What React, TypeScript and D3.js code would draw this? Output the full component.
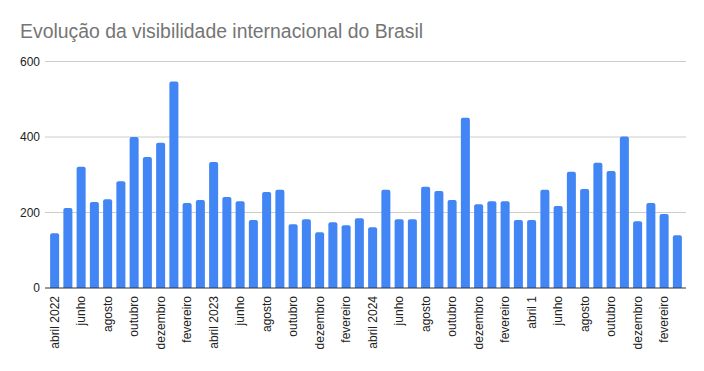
import React from "react";
import * as d3 from "d3";

const title = "Evolução da visibilidade internacional do Brasil";

const categories = [
  "abril 2022", "maio", "junho", "julho", "agosto", "setembro", "outubro", "novembro", "dezembro", "janeiro", "fevereiro", "março",
  "abril 2023", "maio", "junho", "julho", "agosto", "setembro", "outubro", "novembro", "dezembro", "janeiro", "fevereiro", "março",
  "abril 2024", "maio", "junho", "julho", "agosto", "setembro", "outubro", "novembro", "dezembro", "janeiro", "fevereiro", "março",
  "abril 1", "maio", "junho", "julho", "agosto", "setembro", "outubro", "novembro", "dezembro", "janeiro", "fevereiro", "março",
];

const values = [
  145, 212, 321, 228, 235, 283, 400, 347, 385, 547, 225, 233,
  334, 241, 230, 180, 254, 260, 169, 182, 148, 174, 166, 185,
  161, 260, 182, 182, 268, 257, 233, 451, 222, 230, 230, 180,
  180, 260, 217, 308, 262, 332, 310, 401, 177, 225, 196, 140,
];

const yTicks = [0, 200, 400, 600];

const W = 704;
const H = 371;
const FONT = "'Liberation Sans', Arial, sans-serif";

export default function App() {
  const left = 48;
  const right = 684;
  const top = 61.5;
  const bottom = 288;

  const x = d3
    .scaleBand<number>()
    .domain(d3.range(categories.length))
    .range([left, right])
    .paddingInner(0.32)
    .paddingOuter(0.16);
  const y = d3.scaleLinear().domain([0, 600]).range([bottom, top]);
  const bw = x.bandwidth();
  const r = 2;

  const barPath = (i: number, v: number) => {
    const x0 = x(i)!;
    const y0 = y(v);
    const yb = y(0);
    return `M${x0},${yb}V${y0 + r}Q${x0},${y0} ${x0 + r},${y0}H${x0 + bw - r}Q${x0 + bw},${y0} ${x0 + bw},${y0 + r}V${yb}Z`;
  };

  return (
    <svg width={W} height={H} style={{ position: "absolute", left: 0, top: 0, background: "#fff" }}>
      <text x={20} y={38} fontFamily={FONT} fontSize={19.4} fill="#757575">
        {title}
      </text>
      {yTicks.map((t) => (
        <g key={t}>
          {t !== 0 && (
            <line x1={45} x2={686} y1={y(t)} y2={y(t)} stroke="#cccccc" strokeWidth={1} />
          )}
          <text x={40} y={y(t)} dy="0.35em" textAnchor="end" fontFamily={FONT} fontSize={12} fill="#222">
            {t}
          </text>
        </g>
      ))}
      {values.map((v, i) => (
        <path key={i} d={barPath(i, v)} fill="#4285f4" />
      ))}
      <line x1={45} x2={686} y1={y(0)} y2={y(0)} stroke="#333" strokeWidth={1} />
      {categories.map((c, i) =>
        i % 2 === 0 ? (
          <text
            key={i}
            transform={`translate(${x(i)! + bw / 2},${296}) rotate(-90)`}
            dy="0.35em"
            textAnchor="end"
            fontFamily={FONT}
            fontSize={12}
            fill="#222"
          >
            {c}
          </text>
        ) : null
      )}
    </svg>
  );
}
